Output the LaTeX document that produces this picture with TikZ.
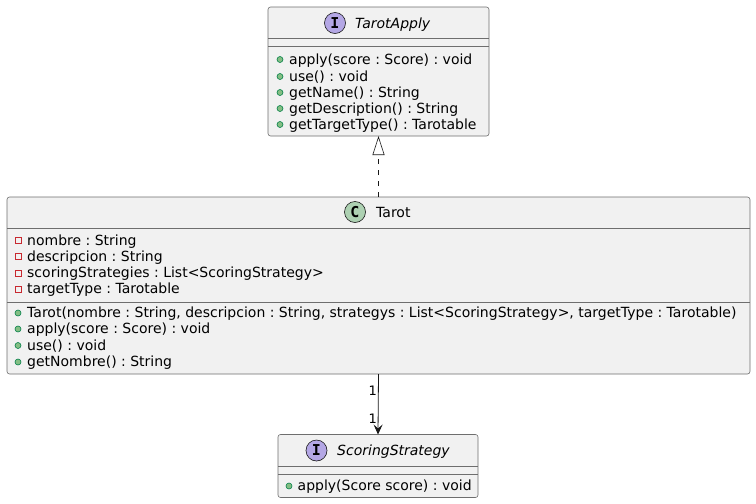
\documentclass[tikz,border=0pt]{standalone}
\usepackage{fontspec}
\setmainfont{DejaVu Sans}
\newfontfamily\stereofont{DejaVu Sans Mono}
\frenchspacing
\usetikzlibrary{arrows.meta}
\definecolor{umlfill}{HTML}{F1F1F1}
\definecolor{umlline}{HTML}{181818}
\definecolor{boxline}{HTML}{6E6E6E}
\definecolor{ifacecirc}{HTML}{B4A7E5}
\definecolor{classcirc}{HTML}{ADD1B2}
\definecolor{pubfill}{HTML}{84BE84}
\definecolor{publine}{HTML}{038048}
\definecolor{privline}{HTML}{C82930}
\tikzset{%
	classbox/.style={draw=boxline,fill=umlfill,line width=0.6pt,rounded corners=2.5pt,inner sep=0pt,outer sep=0pt},
	sepline/.style={draw=boxline,line width=0.6pt},
	member/.style={anchor=base west,inner sep=0pt,font=\fontsize{14}{16}\selectfont},
	iname/.style={member,font=\fontsize{14}{16}\selectfont\itshape},
	stereo/.style={circle,draw=umlline,line width=0.6pt,minimum size=21pt,inner sep=0pt,font=\fontsize{15}{16}\stereofont\bfseries},
	pub/.style={circle,draw=publine,fill=pubfill,minimum size=6pt,inner sep=0pt,line width=0.6pt},
	priv/.style={rectangle,draw=privline,minimum size=6pt,inner sep=0pt,line width=0.7pt},
	mult/.style={anchor=base east,inner sep=0pt,font=\fontsize{13}{15}\selectfont},
}

\begin{document}
\begin{tikzpicture}[x=1pt,y=-1pt]
	\useasboundingbox (0,0) rectangle (756,504);

	%RAZREDI
	\node[classbox,minimum width=221pt,minimum height=129pt] (tarotapply) at (378.5,71.5) {};
	\node[classbox,minimum width=743pt,minimum height=177pt] (tarot) at (378.5,285.5) {};
	\node[classbox,minimum width=200pt,minimum height=63pt] (strategy) at (378,466) {};

	%TAROTAPPLY
	\node[stereo,fill=ifacecirc] (iapply) at (335,23) {I};
	\node[iname] (napply) at (355,28) {TarotApply};
	\draw[sepline] (268,38) -- (489,38);
	\draw[sepline] (268,46) -- (489,46);
	\foreach \y/\txt [count=\i] in {64/{apply(score : Score) : void},81/{use() : void},97/{getName() : String},113/{getDescription() : String},129/{getTargetType() : Tarotable}}{
		\node[pub] (pa\i) at (280,\y-4.5) {};
		\node[member] (ma\i) at (289,\y) {\txt};
	}

	%TAROT
	\node[stereo,fill=classcirc] (ctarot) at (355,212) {C};
	\node[member] (ntarot) at (376,217.5) {Tarot};
	\draw[sepline] (7,228) -- (750,228);
	\foreach \y/\txt [count=\i] in {245/{nombre : String},261/{descripcion : String},277.5/{scoringStrategies : List<ScoringStrategy>},293.5/{targetType : Tarotable}}{
		\node[priv] (pf\i) at (18,\y-4.5) {};
		\node[member] (ft\i) at (27,\y) {\txt};
	}
	\draw[sepline] (7,302) -- (750,302);
	\foreach \y/\txt [count=\i] in {317.5/{Tarot(nombre : String, descripcion : String, strategys : List<ScoringStrategy>, targetType : Tarotable)},333.5/{apply(score : Score) : void},350/{use() : void},366.5/{getNombre() : String}}{
		\node[pub] (pt\i) at (18,\y-4.5) {};
		\node[member] (mt\i) at (27,\y) {\txt};
	}

	%SCORINGSTRATEGY
	\node[stereo,fill=ifacecirc] (istrategy) at (316.5,450.5) {I};
	\node[iname] (nstrategy) at (337,455) {ScoringStrategy};
	\draw[sepline] (278,466) -- (478,466);
	\draw[sepline] (278,474.5) -- (478,474.5);
	\node[pub] (ps1) at (289,486) {};
	\node[member] (ms1) at (297.5,490.5) {apply(Score score) : void};

	%POVEZAVE
	\draw[umlline,line width=0.6pt,dash pattern=on 5pt off 6pt,-{Triangle[open,length=19pt,width=12pt,line width=0.6pt]}] (tarot.north) -- (tarotapply.south);
	\draw[umlline,line width=0.8pt,-{Stealth[length=10pt,width=9pt,inset=4pt]}] (tarot.south) -- (strategy.north);
	\node[mult] (m1) at (377,395) {1}; %od Tarot
	\node[mult] (m2) at (377,423) {1}; %do ScoringStrategy
\end{tikzpicture}
\end{document}
